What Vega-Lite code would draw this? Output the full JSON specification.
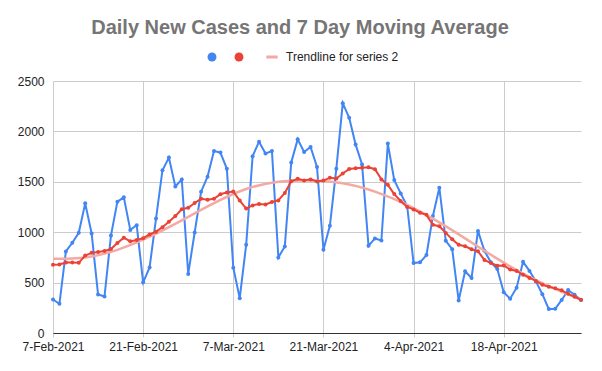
{"$schema": "https://vega.github.io/schema/vega-lite/v6.json", "width": 528, "height": 252, "autosize": {"type": "none"}, "padding": {"left": 53, "top": 81, "right": 21, "bottom": 38}, "background": "white", "title": {"text": "Daily New Cases and 7 Day Moving Average", "font": "Liberation Sans", "fontSize": 20, "fontWeight": "bold", "color": "#757575", "anchor": "middle", "dx": -17, "offset": 13}, "datasets": {"daily": [{"date": "2021/02/07", "cases": 332, "avg": 677}, {"date": "2021/02/08", "cases": 290, "avg": 680}, {"date": "2021/02/09", "cases": 809, "avg": 699}, {"date": "2021/02/10", "cases": 895, "avg": 699}, {"date": "2021/02/11", "cases": 994, "avg": 696}, {"date": "2021/02/12", "cases": 1286, "avg": 769}, {"date": "2021/02/13", "cases": 987, "avg": 795}, {"date": "2021/02/14", "cases": 382, "avg": 804}, {"date": "2021/02/15", "cases": 362, "avg": 814}, {"date": "2021/02/16", "cases": 967, "avg": 833}, {"date": "2021/02/17", "cases": 1303, "avg": 892}, {"date": "2021/02/18", "cases": 1346, "avg": 946}, {"date": "2021/02/19", "cases": 1023, "avg": 909}, {"date": "2021/02/20", "cases": 1069, "avg": 923}, {"date": "2021/02/21", "cases": 503, "avg": 941}, {"date": "2021/02/22", "cases": 651, "avg": 977}, {"date": "2021/02/23", "cases": 1135, "avg": 1005}, {"date": "2021/02/24", "cases": 1615, "avg": 1050}, {"date": "2021/02/25", "cases": 1740, "avg": 1104}, {"date": "2021/02/26", "cases": 1454, "avg": 1160}, {"date": "2021/02/27", "cases": 1523, "avg": 1228}, {"date": "2021/02/28", "cases": 586, "avg": 1242}, {"date": "2021/03/01", "cases": 997, "avg": 1290}, {"date": "2021/03/02", "cases": 1402, "avg": 1331}, {"date": "2021/03/03", "cases": 1550, "avg": 1323}, {"date": "2021/03/04", "cases": 1806, "avg": 1331}, {"date": "2021/03/05", "cases": 1790, "avg": 1377}, {"date": "2021/03/06", "cases": 1629, "avg": 1395}, {"date": "2021/03/07", "cases": 648, "avg": 1403}, {"date": "2021/03/08", "cases": 345, "avg": 1314}, {"date": "2021/03/09", "cases": 875, "avg": 1234}, {"date": "2021/03/10", "cases": 1754, "avg": 1266}, {"date": "2021/03/11", "cases": 1898, "avg": 1280}, {"date": "2021/03/12", "cases": 1780, "avg": 1276}, {"date": "2021/03/13", "cases": 1806, "avg": 1300}, {"date": "2021/03/14", "cases": 750, "avg": 1315}, {"date": "2021/03/15", "cases": 859, "avg": 1390}, {"date": "2021/03/16", "cases": 1691, "avg": 1505}, {"date": "2021/03/17", "cases": 1921, "avg": 1530}, {"date": "2021/03/18", "cases": 1796, "avg": 1514}, {"date": "2021/03/19", "cases": 1846, "avg": 1524}, {"date": "2021/03/20", "cases": 1648, "avg": 1504}, {"date": "2021/03/21", "cases": 826, "avg": 1512}, {"date": "2021/03/22", "cases": 1063, "avg": 1541}, {"date": "2021/03/23", "cases": 1629, "avg": 1533}, {"date": "2021/03/24", "cases": 2280, "avg": 1583}, {"date": "2021/03/25", "cases": 2135, "avg": 1628}, {"date": "2021/03/26", "cases": 1869, "avg": 1634}, {"date": "2021/03/27", "cases": 1671, "avg": 1639}, {"date": "2021/03/28", "cases": 865, "avg": 1645}, {"date": "2021/03/29", "cases": 938, "avg": 1625}, {"date": "2021/03/30", "cases": 918, "avg": 1524}, {"date": "2021/03/31", "cases": 1879, "avg": 1470}, {"date": "2021/04/01", "cases": 1517, "avg": 1378}, {"date": "2021/04/02", "cases": 1385, "avg": 1309}, {"date": "2021/04/03", "cases": 1260, "avg": 1251}, {"date": "2021/04/04", "cases": 694, "avg": 1226}, {"date": "2021/04/05", "cases": 701, "avg": 1193}, {"date": "2021/04/06", "cases": 773, "avg": 1172}, {"date": "2021/04/07", "cases": 1161, "avg": 1073}, {"date": "2021/04/08", "cases": 1441, "avg": 1059}, {"date": "2021/04/09", "cases": 915, "avg": 993}, {"date": "2021/04/10", "cases": 832, "avg": 929}, {"date": "2021/04/11", "cases": 322, "avg": 875}, {"date": "2021/04/12", "cases": 612, "avg": 860}, {"date": "2021/04/13", "cases": 546, "avg": 831}, {"date": "2021/04/14", "cases": 1013, "avg": 811}, {"date": "2021/04/15", "cases": 816, "avg": 725}, {"date": "2021/04/16", "cases": 701, "avg": 694}, {"date": "2021/04/17", "cases": 635, "avg": 667}, {"date": "2021/04/18", "cases": 405, "avg": 670}, {"date": "2021/04/19", "cases": 340, "avg": 630}, {"date": "2021/04/20", "cases": 450, "avg": 616}, {"date": "2021/04/21", "cases": 706, "avg": 578}, {"date": "2021/04/22", "cases": 616, "avg": 546}, {"date": "2021/04/23", "cases": 512, "avg": 517}, {"date": "2021/04/24", "cases": 385, "avg": 478}, {"date": "2021/04/25", "cases": 237, "avg": 458}, {"date": "2021/04/26", "cases": 240, "avg": 443}, {"date": "2021/04/27", "cases": 328, "avg": 423}, {"date": "2021/04/28", "cases": 426, "avg": 389}, {"date": "2021/04/29", "cases": 380, "avg": 360}, {"date": "2021/04/30", "cases": 328, "avg": 330}], "trendline": [{"date": "2021/02/07", "trend": 737}, {"date": "2021/02/12", "trend": 750}, {"date": "2021/02/17", "trend": 825}, {"date": "2021/02/22", "trend": 955}, {"date": "2021/02/27", "trend": 1118}, {"date": "2021/03/04", "trend": 1288}, {"date": "2021/03/09", "trend": 1428}, {"date": "2021/03/14", "trend": 1500}, {"date": "2021/03/19", "trend": 1513}, {"date": "2021/03/24", "trend": 1486}, {"date": "2021/03/29", "trend": 1403}, {"date": "2021/04/03", "trend": 1271}, {"date": "2021/04/08", "trend": 1098}, {"date": "2021/04/13", "trend": 898}, {"date": "2021/04/18", "trend": 698}, {"date": "2021/04/23", "trend": 525}, {"date": "2021/04/28", "trend": 383}, {"date": "2021/04/30", "trend": 332}]}, "encoding": {"x": {"field": "date", "type": "temporal", "title": null, "scale": {"domain": [{"year": 2021, "month": 2, "date": 7}, {"year": 2021, "month": 4, "date": 30}]}, "axis": {"values": [{"year": 2021, "month": 2, "date": 7}, {"year": 2021, "month": 2, "date": 21}, {"year": 2021, "month": 3, "date": 7}, {"year": 2021, "month": 3, "date": 21}, {"year": 2021, "month": 4, "date": 4}, {"year": 2021, "month": 4, "date": 18}], "format": "%-d-%b-%Y", "labelOverlap": false, "labelFlush": false, "grid": true, "gridColor": "#cccccc", "domainColor": "#333333", "tickColor": "#cccccc", "tickSize": 4, "labelPadding": 4}}}, "layer": [{"data": {"name": "daily", "format": {"parse": {"date": "date"}}}, "mark": {"type": "line", "strokeWidth": 2, "point": {"filled": true, "size": 16}}, "encoding": {"y": {"field": "cases", "type": "quantitative", "title": null, "scale": {"domain": [0, 2500], "nice": false}, "axis": {"format": "d"}}, "color": {"datum": "Daily New Cases", "type": "nominal", "scale": {"domain": ["Daily New Cases", "7 Day Moving Average", "Trendline for series 2"], "range": ["#4285F4", "#EA4335", "#F4A9A3"]}, "legend": {"orient": "none", "legendX": 153, "legendY": -30, "direction": "horizontal", "title": null, "labelExpr": "datum.value == 'Trendline for series 2' ? datum.label : ''", "labelFont": "Liberation Sans", "labelFontSize": 12, "labelColor": "#222222", "symbolSize": 80, "labelOffset": 8, "columnPadding": 7, "encode": {"symbols": {"update": {"shape": {"signal": "datum.value == 'Trendline for series 2' ? 'stroke' : 'circle'"}, "size": {"signal": "datum.value == 'Trendline for series 2' ? 130 : 80"}, "strokeWidth": {"signal": "datum.value == 'Trendline for series 2' ? 3 : 0"}, "stroke": {"signal": "scale('color', datum.value)"}, "fill": {"signal": "datum.value == 'Trendline for series 2' ? 'transparent' : scale('color', datum.value)"}, "opacity": {"value": 1}}}}}}}}, {"data": {"name": "trendline", "format": {"parse": {"date": "date"}}}, "mark": {"type": "line", "strokeWidth": 2.5, "interpolate": "natural"}, "encoding": {"y": {"field": "trend", "type": "quantitative", "title": null}, "color": {"datum": "Trendline for series 2", "type": "nominal"}}}, {"data": {"name": "daily", "format": {"parse": {"date": "date"}}}, "mark": {"type": "line", "strokeWidth": 2, "point": {"filled": true, "size": 16}}, "encoding": {"y": {"field": "avg", "type": "quantitative", "title": null}, "color": {"datum": "7 Day Moving Average", "type": "nominal"}}}], "config": {"view": {"stroke": null}, "font": "Liberation Sans", "axis": {"labelFont": "Liberation Sans", "labelFontSize": 12, "labelColor": "#222222", "gridColor": "#cccccc", "gridWidth": 1}, "axisY": {"domain": false, "ticks": false, "labelPadding": 9, "values": [0, 500, 1000, 1500, 2000, 2500]}}}
